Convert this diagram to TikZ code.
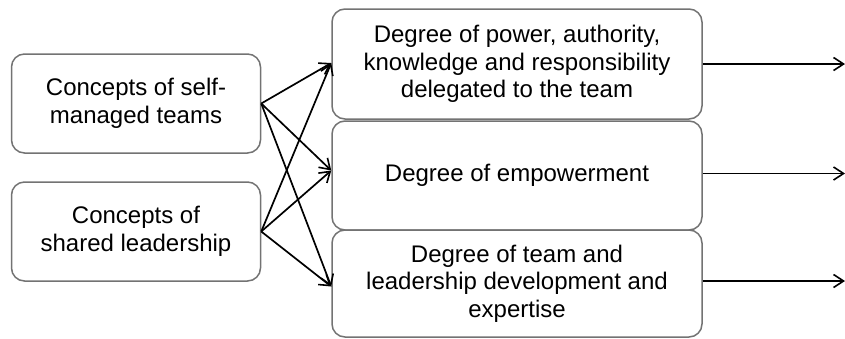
\documentclass[tikz,border=0pt]{standalone}
\usepackage{fontspec}
\setmainfont{Liberation Sans}
\usetikzlibrary{arrows.meta}
\begin{document}
\begin{tikzpicture}[x=1pt,y=-1pt,
  box/.style={draw=gray!90!black, line width=1.5pt, rounded corners=13pt, fill=white,
    align=center, inner sep=0pt, font=\fontsize{24}{27.5}\selectfont},
  lbox/.style={box, minimum width=249pt, minimum height=99pt},
  rbox/.style={box, minimum width=370pt},
  arr/.style={line width=1.7pt, -{Straight Barb[length=10pt,width=13pt,line width=1.6pt]}}]
\useasboundingbox (0,0) rectangle (845,338);
\node[lbox] (s1) at (136,103.5) {Concepts of self-\\managed teams};
\node[lbox] (s2) at (136,231.5) {Concepts of\\shared leadership};
\node[rbox, minimum height=110pt] (a) at (517,64) {Degree of power, authority,\\knowledge and responsibility\\delegated to the team};
\node[rbox, minimum height=109pt] (b) at (517,175.5) {Degree of empowerment};
\node[rbox, minimum height=107pt] (c) at (517,283.5) {Degree of team and\\leadership development and\\expertise};
\coordinate (ta) at ([yshift=1pt]a.west);
\coordinate (tb) at ([yshift=5pt]b.west);
\coordinate (tc) at ([yshift=-3pt]c.west);
\coordinate (oa) at (845,64);
\coordinate (ob) at (845,173.5);
\coordinate (oc) at (845,281);
\foreach \s in {s1,s2}{
  \foreach \t in {ta,tb,tc}{
    \draw[arr] (\s.east) -- (\t);
  }
}
\draw[arr] (a.east |- oa) -- (oa);
\draw[arr] (b.east |- ob) -- (ob);
\draw[arr] (c.east |- oc) -- (oc);
\end{tikzpicture}
\end{document}
